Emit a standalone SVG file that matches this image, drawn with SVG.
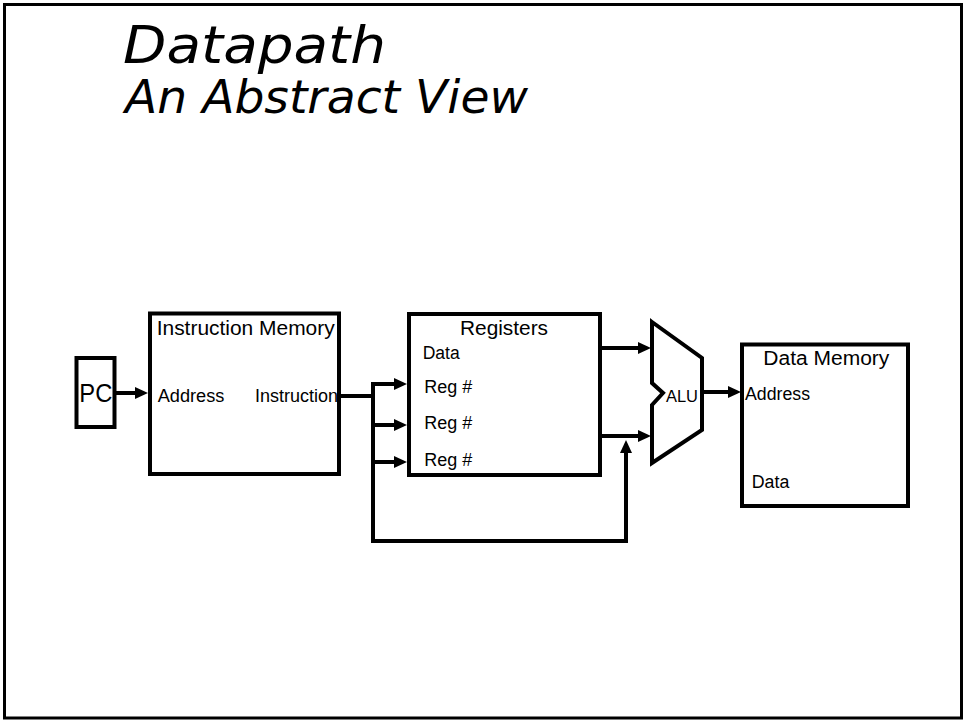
<svg xmlns="http://www.w3.org/2000/svg" width="965" height="721" viewBox="0 0 965 721">
<style>
.box{fill:#fff;stroke:#000;stroke-width:4}
.wire{fill:none;stroke:#000;stroke-width:4}
.lbl{font-family:"Liberation Sans",Arial,sans-serif;fill:#000}
.title{font-family:"DejaVu Sans",Verdana,sans-serif;font-style:oblique;fill:#000}
</style>
<defs>
<marker id="arr" viewBox="0 0 13 12" refX="2" refY="6" markerWidth="13" markerHeight="12" markerUnits="userSpaceOnUse" orient="auto">
<path d="M0,0 L13,6 L0,12 z" fill="#000"/>
</marker>
</defs>
<rect x="0" y="0" width="965" height="721" fill="#fff"/>
<rect id="frame" x="4.5" y="4.5" width="957" height="713.5" fill="none" stroke="#000" stroke-width="3"/>
<g id="title">
<text class="title" x="123" y="63" font-size="52" textLength="263" lengthAdjust="spacingAndGlyphs">Datapath</text>
<text class="title" x="125" y="113" font-size="46" textLength="403" lengthAdjust="spacingAndGlyphs">An Abstract View</text>
</g>
<g id="connectors">
<line class="wire" x1="116" y1="393" x2="137" y2="393" marker-end="url(#arr)"/>
<polyline class="wire" points="340,396 373,396"/>
<polyline class="wire" points="396,384 373,384 373,541 626,541 626,451" marker-end="url(#arr)"/>
<line class="wire" x1="373" y1="384" x2="396" y2="384" marker-end="url(#arr)"/>
<line class="wire" x1="373" y1="425" x2="396" y2="425" marker-end="url(#arr)"/>
<line class="wire" x1="373" y1="462" x2="396" y2="462" marker-end="url(#arr)"/>
<line class="wire" x1="600" y1="348" x2="640" y2="348" marker-end="url(#arr)"/>
<line class="wire" x1="600" y1="436" x2="640" y2="436" marker-end="url(#arr)"/>
<line class="wire" x1="702" y1="392" x2="730" y2="392" marker-end="url(#arr)"/>
</g>
<g id="pc">
<rect class="box" x="76.5" y="358" width="38" height="69"/>
<text class="lbl" x="79.3" y="402.3" font-size="26" textLength="33" lengthAdjust="spacingAndGlyphs">PC</text>
</g>
<g id="instruction-memory">
<rect class="box" x="150" y="313.5" width="189" height="160.5"/>
<text class="lbl" x="156.7" y="335" font-size="20" textLength="178" lengthAdjust="spacingAndGlyphs">Instruction Memory</text>
<text class="lbl" x="157.7" y="401.7" font-size="18" textLength="66.7" lengthAdjust="spacingAndGlyphs">Address</text>
<text class="lbl" x="255" y="401.7" font-size="18" textLength="83" lengthAdjust="spacingAndGlyphs">Instruction</text>
</g>
<g id="registers">
<rect class="box" x="409" y="314" width="191" height="161"/>
<text class="lbl" x="460" y="335" font-size="20" textLength="88" lengthAdjust="spacingAndGlyphs">Registers</text>
<text class="lbl" x="422.7" y="359" font-size="18" textLength="37" lengthAdjust="spacingAndGlyphs">Data</text>
<text class="lbl" x="424.3" y="392.7" font-size="18" textLength="48" lengthAdjust="spacingAndGlyphs">Reg #</text>
<text class="lbl" x="424.3" y="429" font-size="18" textLength="48" lengthAdjust="spacingAndGlyphs">Reg #</text>
<text class="lbl" x="424.3" y="465.7" font-size="18" textLength="48" lengthAdjust="spacingAndGlyphs">Reg #</text>
</g>
<g id="alu">
<polygon class="box" points="652,322 702,358 702,430 652,463 652,405 663,393 652,383"/>
<text class="lbl" x="666" y="401.7" font-size="17" textLength="32" lengthAdjust="spacingAndGlyphs">ALU</text>
</g>
<g id="data-memory">
<rect class="box" x="742" y="344.5" width="166" height="161.5"/>
<text class="lbl" x="763.3" y="365" font-size="20" textLength="126" lengthAdjust="spacingAndGlyphs">Data Memory</text>
<text class="lbl" x="745" y="400" font-size="18" textLength="65" lengthAdjust="spacingAndGlyphs">Address</text>
<text class="lbl" x="751.7" y="488.3" font-size="18" textLength="37.6" lengthAdjust="spacingAndGlyphs">Data</text>
</g>
</svg>
